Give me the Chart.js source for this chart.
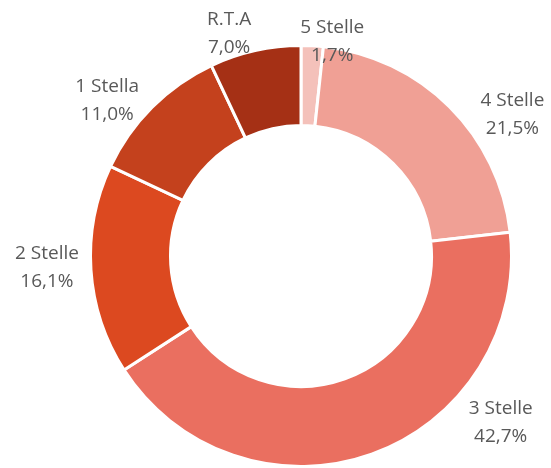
<!DOCTYPE html>
<html>
<head>
<meta charset="utf-8">
<script src="https://cdn.jsdelivr.net/npm/chart.js@4"></script>
<style>
  html, body { margin: 0; padding: 0; background: #fff; }
</style>
</head>
<body>
<canvas id="myDonut" width="551" height="468"></canvas>
<script>
// Chart data
const categories = ["5 Stelle", "4 Stelle", "3 Stelle", "2 Stelle", "1 Stella", "R.T.A"];
const shares = [1.7, 21.5, 42.7, 16.1, 11.0, 7.0];
const sliceColors = ["#F4C1BA", "#F0A095", "#EA6F60", "#DC4920", "#C4411D", "#A53015"];

// label nudges (px) from the outer middle of each slice
const labelNudge = [[20, -4], [63, 8], [129, -32], [-44, -2], [-45, -7], [-26, -17]];

// Draw category + value labels outside the ring
const outsideLabels = {
  id: 'outsideLabels',
  afterDatasetsDraw(chart) {
    const ctx = chart.ctx;
    const meta = chart.getDatasetMeta(0);
    ctx.save();
    ctx.font = '19px "Open Sans", sans-serif';
    ctx.fillStyle = '#595959';
    ctx.textAlign = 'center';
    ctx.textBaseline = 'middle';
    meta.data.forEach(function(arc, i) {
      const p = arc.getProps(['x', 'y', 'startAngle', 'endAngle', 'outerRadius'], true);
      const mid = (p.startAngle + p.endAngle) / 2;
      const x = p.x + Math.cos(mid) * p.outerRadius + labelNudge[i][0];
      const y = p.y + Math.sin(mid) * p.outerRadius + labelNudge[i][1];
      ctx.fillText(categories[i], x, y - 14);
      ctx.fillText(shares[i].toFixed(1).replace('.', ',') + '%', x, y + 14);
    });
    ctx.restore();
  }
};

new Chart(document.getElementById('myDonut'), {
  type: 'doughnut',
  data: {
    labels: categories,
    datasets: [{
      data: shares,
      backgroundColor: sliceColors,
      borderColor: '#ffffff',
      borderWidth: 3,
      hoverOffset: 0,
      hoverBorderWidth: 3
    }]
  },
  options: {
    responsive: false,
    animation: false,
    cutout: '62%',
    layout: {
      padding: { left: 89, right: 38, top: 44, bottom: 0 }
    },
    plugins: {
      legend: { display: false },
      tooltip: { enabled: false }
    }
  },
  plugins: [outsideLabels]
});
</script>
</body>
</html>
